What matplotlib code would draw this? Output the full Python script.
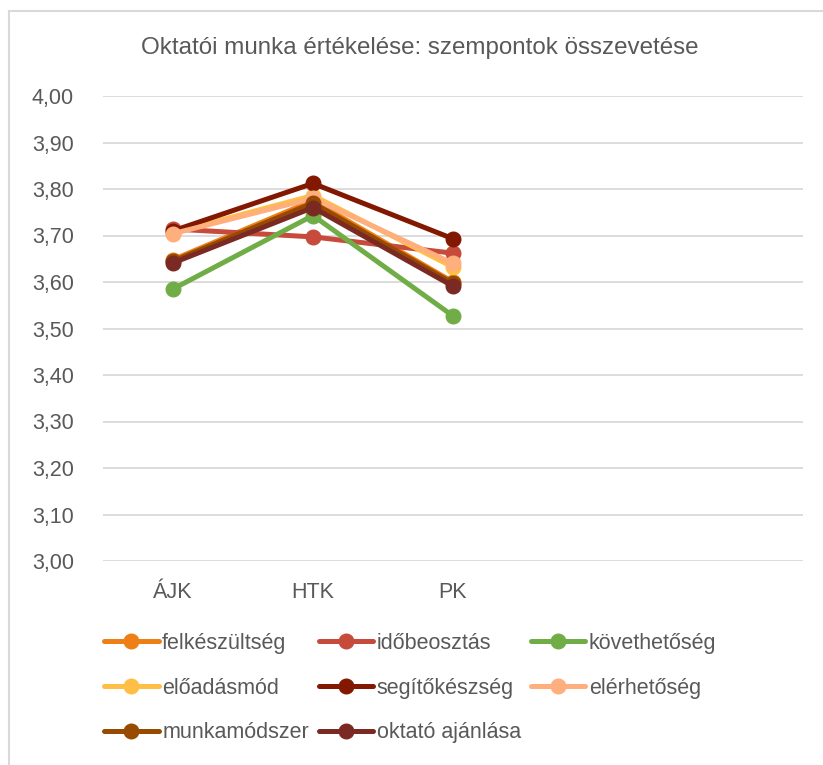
import numpy as np
import matplotlib
matplotlib.use("Agg")
import matplotlib.pyplot as plt
from matplotlib.patches import Rectangle
from matplotlib.ticker import FuncFormatter

plt.rcParams['font.family'] = ['Liberation Sans', 'DejaVu Sans']

# data
categories = ["ÁJK", "HTK", "PK", "", ""]
series_names = ["felkészültség", "időbeosztás", "követhetőség",
                "előadásmód", "segítőkészség", "elérhetőség",
                "munkamódszer", "oktató ajánlása"]
felkeszultseg = [3.648, 3.775, 3.600]
idobeosztas = [3.714, 3.697, 3.662]
kovethetoseg = [3.585, 3.743, 3.527]
eloadasmod = [3.706, 3.786, 3.632]
segitokeszseg = [3.710, 3.812, 3.693]
elerhetoseg = [3.704, 3.780, 3.640]
munkamodszer = [3.645, 3.770, 3.597]
oktato_ajanlasa = [3.641, 3.760, 3.591]
colors = ["#EE7F16", "#C64B3B", "#70AD47", "#FFBE45",
          "#821800", "#FFAE7D", "#974A00", "#7A2A22"]

all_values = [felkeszultseg, idobeosztas, kovethetoseg, eloadasmod,
              segitokeszseg, elerhetoseg, munkamodszer, oktato_ajanlasa]

W, H = 823, 765
FS = 15.5
fig = plt.figure(figsize=(W / 100, H / 100), dpi=100)

# light chart border (cut off at the right and bottom like the reference)
fig.patches.append(Rectangle((9 / W, -0.1), 1.2, 1 - 11 / H + 0.1,
                             transform=fig.transFigure, fill=False,
                             edgecolor="#D9D9D9", lw=1.5))

ax = fig.add_axes([103 / W, 1 - 561 / H, 700 / W, 465 / H])

x = np.arange(len(categories))
lines = []
for name, vals, col in zip(series_names, all_values, colors):
    ln, = ax.plot(x[:len(vals)], vals, color=col, lw=3.6, marker="o",
                  markersize=10.5, solid_capstyle="round", label=name)
    lines.append(ln)

ax.set_xlim(-0.5, len(categories) - 0.5)
ax.set_ylim(3.0, 4.0)
ax.set_yticks(np.arange(3.0, 4.001, 0.1))
ax.yaxis.set_major_formatter(FuncFormatter(lambda v, p: f"{v:.2f}".replace(".", ",")))
ax.set_xticks(x)
ax.set_xticklabels(categories, va="baseline")
ax.tick_params(length=0, labelsize=FS, colors="#595959")
ax.tick_params(axis="y", pad=21)
ax.tick_params(axis="x", pad=26.5)
for s in ax.spines.values():
    s.set_visible(False)
ax.grid(axis="y", color="#D9D9D9", lw=1.3)
ax.set_axisbelow(True)

fig.text(420 / W, 1 - 48 / H, "Oktatói munka értékelése: szempontok összevetése",
         ha="center", va="center", fontsize=17.4, color="#595959")

# excel fills the legend row by row, matplotlib column by column
order = [0, 3, 6, 1, 4, 7, 2, 5]
leg = fig.legend([lines[i] for i in order], [series_names[i] for i in order],
                 ncol=3, loc="upper left", bbox_to_anchor=(104 / W, 1 - 633 / H),
                 frameon=False, fontsize=FS, handlelength=2.55, handletextpad=0.15,
                 columnspacing=0.45, labelspacing=1.1, borderpad=0, borderaxespad=0)
for t in leg.get_texts():
    t.set_color("#595959")
for h in leg.legend_handles:
    h.set_markersize(10.5)

fig.savefig("out.png", dpi=100)
